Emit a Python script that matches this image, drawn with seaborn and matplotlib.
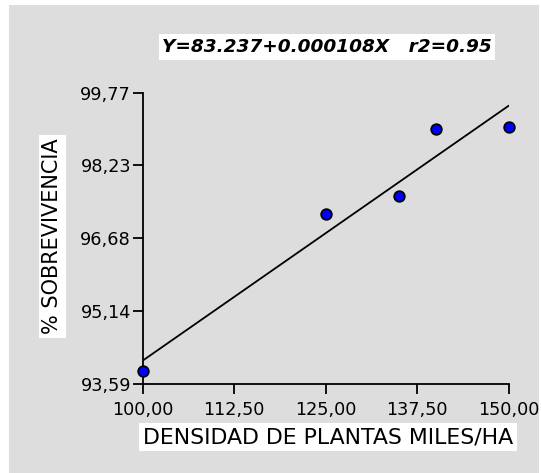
import matplotlib
matplotlib.use("Agg")
import matplotlib.pyplot as plt
from matplotlib.patches import Rectangle
import numpy as np
import pandas as pd
import seaborn as sns

# Plant density (thousands/ha) vs. survival (%)
densidad = [100, 125, 135, 140, 150]
sobrevivencia = [93.85, 97.20, 97.57, 99.00, 99.04]

x_ticks = [100.0, 112.5, 125.0, 137.5, 150.0]
y_ticks = [93.59, 95.14, 96.68, 98.23, 99.77]

titulo = "Y=83.237+0.000108X   r2=0.95"
etiqueta_x = "DENSIDAD DE PLANTAS MILES/HA"
etiqueta_y = "% SOBREVIVENCIA"

df = pd.DataFrame({"densidad": densidad, "sobrevivencia": sobrevivencia})

sns.set_theme(style="white")
plt.rcParams["font.family"] = ["DejaVu Sans"]

W, H = 541, 473
fig = plt.figure(figsize=(W / 100, H / 100), dpi=100, facecolor="white")

# gray panel behind the chart
fig.patches.append(Rectangle((9 / W, 0), 530 / W, 468 / H, transform=fig.transFigure,
                             facecolor="#dddddd", edgecolor="none", zorder=-10))

ax = fig.add_axes([142.7 / W, 1 - 383.7 / H, 366 / W, 290.7 / H])
ax.set_facecolor("none")
ax.set_zorder(2)

sns.regplot(data=df, x="densidad", y="sobrevivencia", ci=None, scatter=False,
            color="black", line_kws={"linewidth": 1.3}, ax=ax)
sns.scatterplot(data=df, x="densidad", y="sobrevivencia", s=58, color="#0000ff",
                edgecolor="black", linewidth=1.3, zorder=5, clip_on=False, ax=ax)

ax.set_xlim(x_ticks[0], x_ticks[-1])
ax.set_ylim(y_ticks[0], y_ticks[-1])
ax.set_xticks(x_ticks)
ax.set_yticks(y_ticks)
ax.set_xticklabels([f"{v:.2f}".replace(".", ",") for v in x_ticks])
ax.set_yticklabels([f"{v:.2f}".replace(".", ",") for v in y_ticks])
ax.tick_params(axis="both", which="both", direction="out", length=7.5, width=1.3,
               color="black", labelsize=12.7, labelcolor="black", left=True, bottom=True)
ax.tick_params(axis="x", pad=5)
ax.tick_params(axis="y", pad=1)

for side in ("top", "right"):
    ax.spines[side].set_visible(False)
for side in ("left", "bottom"):
    ax.spines[side].set_color("black")
    ax.spines[side].set_linewidth(1.3)

ax.set_xlabel("")
ax.set_ylabel("")

box = dict(facecolor="white", edgecolor="none", pad=2.5)
fig.text(328 / W, 1 - 437 / H, etiqueta_x, ha="center", va="center", fontsize=15.8,
         color="black", bbox=box)
fig.text(52.5 / W, 1 - 236.5 / H, etiqueta_y, ha="center", va="center", rotation=90,
         fontsize=15.0, color="black", bbox=box)
fig.text(327 / W, 1 - 47 / H, titulo, ha="center", va="center", fontsize=13.3,
         fontweight="bold", fontstyle="italic", color="black", bbox=box)

fig.savefig("out.png", dpi=100, facecolor="white")
